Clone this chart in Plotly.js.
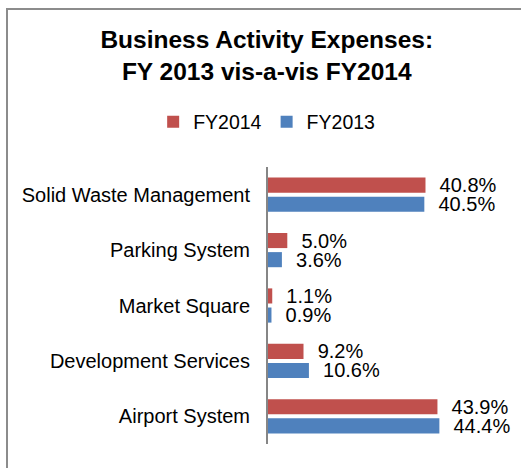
<!DOCTYPE html>
<html>
<head>
<meta charset="utf-8">
<script src="https://cdn.plot.ly/plotly-3.0.1.min.js"></script>
<style>
  html, body { margin: 0; padding: 0; background: #ffffff; }
  #wrap { position: relative; width: 521px; height: 468px; overflow: hidden; }
  #chart { position: absolute; left: 0; top: 0; width: 521px; height: 468px; }
  #frame { position: absolute; left: 6px; top: 8px; width: 530px; height: 480px;
           border-left: 2px solid #8c8c8c; border-top: 2px solid #8c8c8c; pointer-events: none; }
</style>
</head>
<body>
<div id="wrap">
  <div id="chart"></div>
  <div id="frame"></div>
</div>
<script>
const categories = ["Solid Waste Management", "Parking System", "Market Square", "Development Services", "Airport System"];
const fy2014 = [40.8, 5.0, 1.1, 9.2, 43.9];
const fy2013 = [40.5, 3.6, 0.9, 10.6, 44.4];

const FONT = "Arial, 'Liberation Sans', sans-serif";

function barTrace(name, values, color) {
  return {
    type: 'bar',
    orientation: 'h',
    name: name,
    y: categories,
    x: values,
    marker: { color: color },
    text: values.map(v => '\u00A0\u00A0' + v.toFixed(1) + '%'),
    textposition: 'outside',
    textfont: { family: FONT, size: 20, color: '#000000' },
    constraintext: 'none',
    cliponaxis: false,
    hoverinfo: 'skip'
  };
}

const data = [
  barTrace('FY2014', fy2014, '#C0504D'),
  barTrace('FY2013', fy2013, '#4F81BD')
];

const layout = {
  width: 521,
  height: 468,
  margin: { l: 268, r: 60, t: 167, b: 24, pad: 0 },
  paper_bgcolor: '#ffffff',
  plot_bgcolor: '#ffffff',
  font: { family: FONT, size: 19.5, color: '#000000' },
  title: {
    text: '<b>Business Activity Expenses:<br>FY 2013 vis-a-vis FY2014</b>',
    font: { family: FONT, size: 24.5, color: '#000000' },
    x: 0.512, xref: 'container', xanchor: 'center',
    y: 0.897, yref: 'container', yanchor: 'top'
  },
  showlegend: true,
  legend: {
    orientation: 'h',
    x: -0.595, xref: 'paper', xanchor: 'left',
    y: 0.739, yref: 'container', yanchor: 'middle',
    font: { family: FONT, size: 19.5, color: '#000000' },
    traceorder: 'normal'
  },
  barmode: 'group',
  bargap: 0.31,
  bargroupgap: 0.21,
  xaxis: {
    range: [0, 50],
    visible: false,
    showgrid: false,
    zeroline: false
  },
  yaxis: {
    type: 'category',
    autorange: 'reversed',
    showline: true,
    linecolor: '#868686',
    linewidth: 2,
    showgrid: false,
    zeroline: false,
    ticks: '',
    ticklabelstandoff: 12,
    tickfont: { family: FONT, size: 20, color: '#000000' }
  }
};

Plotly.newPlot('chart', data, layout, { displayModeBar: false, staticPlot: true });
</script>
</body>
</html>
